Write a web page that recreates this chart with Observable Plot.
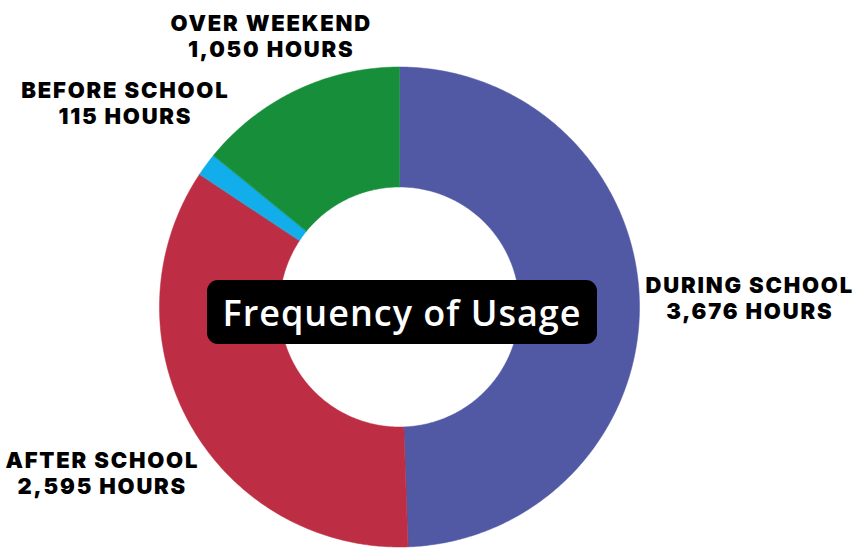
<!DOCTYPE html>
<html>
<head>
<meta charset="utf-8">
<script src="https://cdn.jsdelivr.net/npm/d3@7"></script>
<script src="https://cdn.jsdelivr.net/npm/@observablehq/plot@0.6"></script>
<style>
  html, body { margin: 0; padding: 0; background: #ffffff; }
  #wrap { position: relative; width: 853px; height: 549px; }
  #wrap svg text { letter-spacing: 1.8px; }
  #title {
    position: absolute; width: 390px; height: 64px;
    background: #000; color: #fff; border-radius: 11px;
    display: flex; align-items: center; justify-content: center;
    font-family: "Open Sans", sans-serif; font-weight: 600; font-size: 36px;
    letter-spacing: 1px;
    transform: translate(-50%, -50%); white-space: nowrap;
  }
</style>
</head>
<body>
<div id="wrap"></div>
<script>
// ---- data ----
const categories = ["During School", "After School", "Before School", "Over Weekend"];
const hours = [3676, 2595, 115, 1050];
const labelText = ["DURING SCHOOL", "AFTER SCHOOL", "BEFORE SCHOOL", "OVER WEEKEND"];
const colors = ["#5159A5", "#BD2D43", "#12AEEB", "#178F3A"];
const titleText = "Frequency of Usage";

// ---- layout ----
const W = 853, H = 549;
const cx = 399, cy = 306.5, R = 240;   // pixel geometry of the donut
const innerRatio = 0.5;
const labelR = 1.1;
// label nudges (px) relative to the mid-angle anchor
const labelDx = [86.3, -66.8, -61.6, -14.9];
const labelDy = [-5, 36.7, -47.9, -33.1];

const data = categories.map((c, i) => ({category: c, hours: hours[i], label: labelText[i], i}));
const pie = d3.pie().sort(null).value(d => d.hours);
const arcs = pie(data);

// polygon outline of each donut segment (angles clockwise from top)
const pts = [];
for (const a of arcs) {
  const n = Math.max(2, Math.ceil((a.endAngle - a.startAngle) / 0.01));
  for (let k = 0; k <= n; k++) {
    const t = a.startAngle + (a.endAngle - a.startAngle) * k / n;
    pts.push({category: a.data.category, x: Math.sin(t), y: Math.cos(t)});
  }
  for (let k = n; k >= 0; k--) {
    const t = a.startAngle + (a.endAngle - a.startAngle) * k / n;
    pts.push({category: a.data.category, x: innerRatio * Math.sin(t), y: innerRatio * Math.cos(t)});
  }
}

const labels = arcs.map(a => {
  const m = (a.startAngle + a.endAngle) / 2;
  return {
    x: labelR * Math.sin(m), y: labelR * Math.cos(m),
    text: a.data.label + "\n" + d3.format(",")(a.data.hours) + " HOURS",
    i: a.data.i
  };
});

const chart = Plot.plot({
  width: W, height: H,
  margin: 0,
  x: {domain: [-1, 1], range: [cx - R, cx + R], axis: null},
  y: {domain: [-1, 1], range: [cy + R, cy - R], axis: null},
  color: {domain: categories, range: colors},
  style: {background: "#ffffff"},
  marks: [
    Plot.line(pts, {x: "x", y: "y", z: "category", fill: "category", stroke: "category", strokeWidth: 0.5, curve: "linear-closed"}),
    ...labels.map(l => Plot.text([l], {
      x: "x", y: "y", text: "text",
      dx: labelDx[l.i], dy: labelDy[l.i],
      textAnchor: "middle", lineAnchor: "middle", lineHeight: 1.2,
      fontSize: 22, fontWeight: 900, fill: "#000",
      fontFamily: "Inter, sans-serif"
    }))
  ]
});

const wrap = document.getElementById("wrap");
wrap.appendChild(chart);
const t = document.createElement("div");
t.id = "title";
t.textContent = titleText;
t.style.left = (chart.scale("x").apply(0) + 3) + "px";
t.style.top = (chart.scale("y").apply(0) + 5.5) + "px";
wrap.appendChild(t);
</script>
</body>
</html>
